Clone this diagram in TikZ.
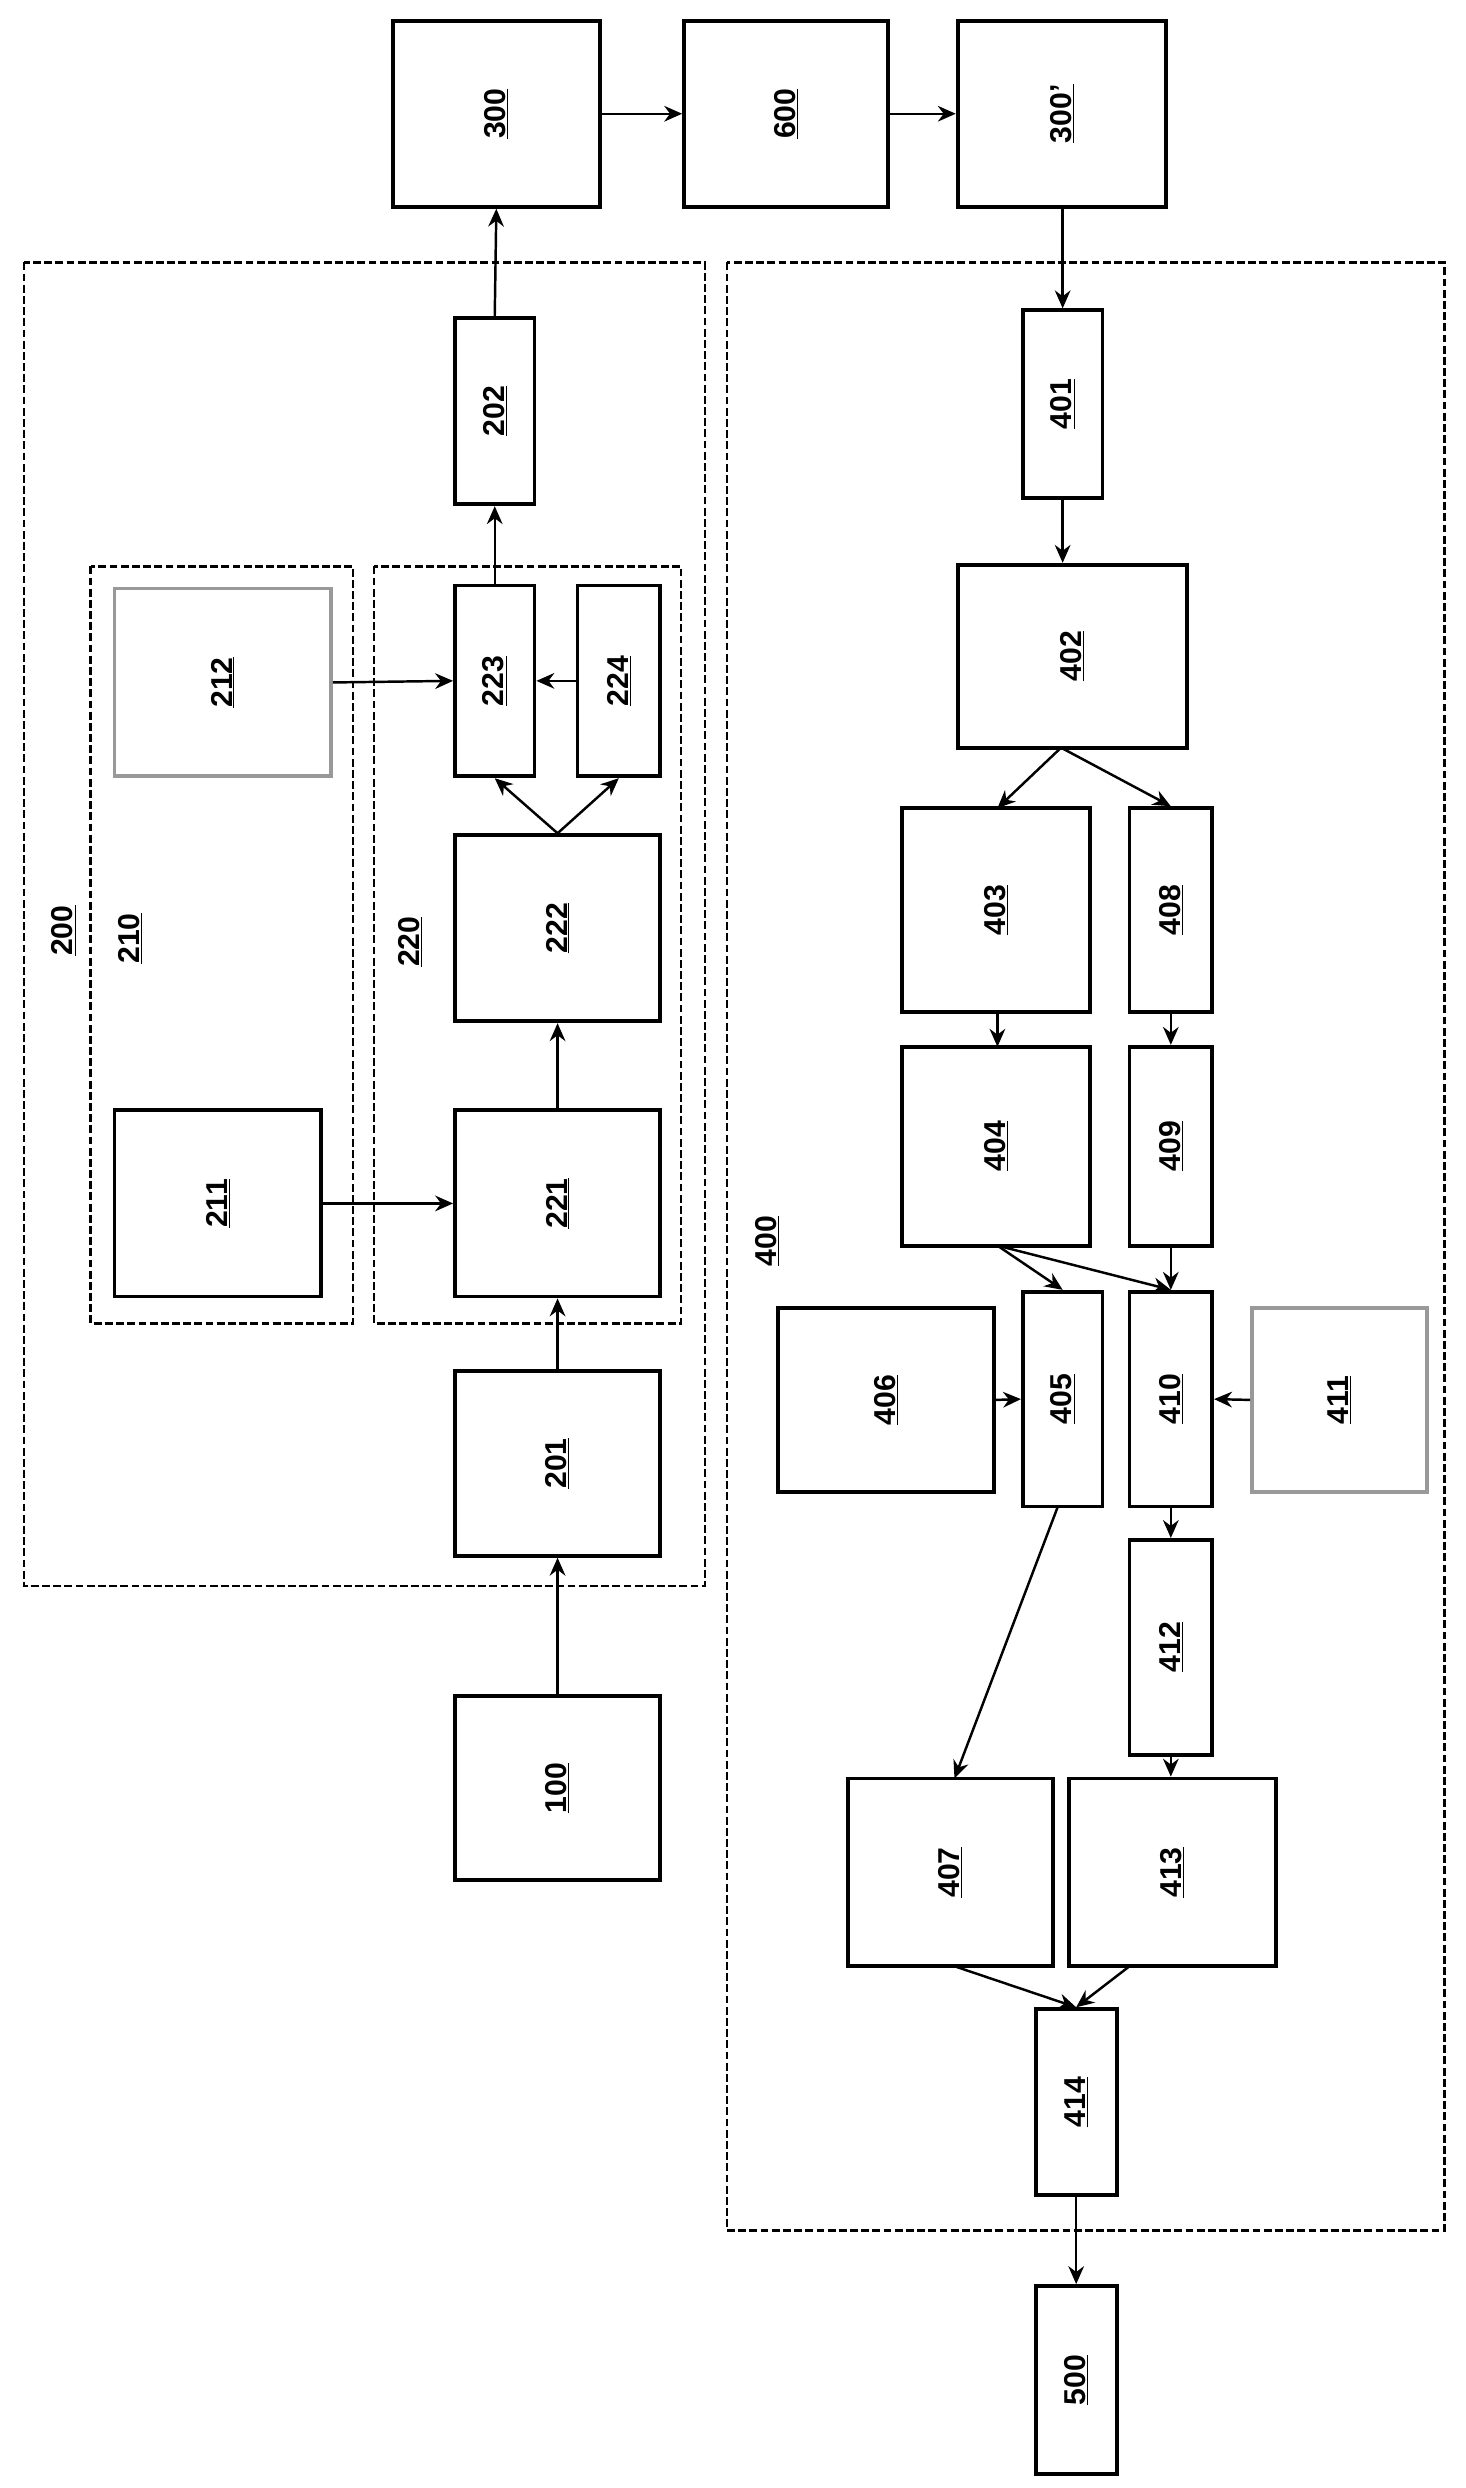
\documentclass[tikz,border=0pt]{standalone}
\usepackage{fontspec}
\setmainfont{Liberation Sans}
\usetikzlibrary{arrows.meta}
\begin{document}
\begin{tikzpicture}[x=0.05cm,y=-0.05cm,
  box/.style={draw,line width=3.4pt,inner sep=0pt,font=\fontsize{27}{30}\selectfont\bfseries},
  gbox/.style={box,draw=gray!80},
  dashbox/.style={draw,line width=2.2pt,dash pattern=on 7pt off 3pt},
  arr/.style={line width=2.2pt,-{Stealth[length=16pt,width=14pt]}},
  lab/.style={font=\fontsize{27}{30}\selectfont\bfseries,rotate=90}]
\useasboundingbox (0,0) rectangle (921,1564);
\newcommand{\bx}[7][box]{%
  \pgfmathsetmacro\cx{(#3+#5)/2}\pgfmathsetmacro\cy{(#4+#6)/2}%
  \pgfmathsetmacro\ww{(#5-#3)*0.05}\pgfmathsetmacro\hh{(#6-#4)*0.05}%
  \node[#1,minimum width=\ww cm,minimum height=\hh cm] (#2) at (\cx,\cy) {\rotatebox{90}{\underline{#7}}};}
% dashed groups
\draw[dashbox] (15,165) rectangle (443,997);
\draw[dashbox] (57,356) rectangle (222,832);
\draw[dashbox] (235,356) rectangle (428,832);
\draw[dashbox] (457,165) rectangle (908,1402);
\node[lab] (l200) at (40,585) {\underline{200}};
\node[lab] (l210) at (82,590) {\underline{210}};
\node[lab] (l220) at (258,592) {\underline{220}};
\node[lab] (l400) at (482,780) {\underline{400}};
\bx{b300}{247}{13}{377}{130}{300}
\bx{b600}{430}{13}{558}{130}{600}
\bx{b300p}{602}{13}{733}{130}{300'}
\bx{b202}{286}{200}{336}{317}{202}
\bx[gbox]{b212}{72}{370}{208}{488}{212}
\bx{b223}{286}{368}{336}{488}{223}
\bx{b224}{363}{368}{415}{488}{224}
\bx{b222}{286}{525}{415}{642}{222}
\bx{b211}{72}{698}{202}{815}{211}
\bx{b221}{286}{698}{415}{815}{221}
\bx{b201}{286}{862}{415}{978}{201}
\bx{b100}{286}{1066}{415}{1182}{100}
\bx{b401}{643}{195}{693}{313}{401}
\bx{b402}{602}{355}{746}{470}{402}
\bx{b403}{567}{508}{685}{636}{403}
\bx{b408}{710}{508}{762}{636}{408}
\bx{b404}{567}{658}{685}{783}{404}
\bx{b409}{710}{658}{762}{783}{409}
\bx{b406}{489}{822}{625}{938}{406}
\bx{b405}{643}{812}{693}{947}{405}
\bx{b410}{710}{812}{762}{947}{410}
\bx[gbox]{b411}{787}{822}{897}{938}{411}
\bx{b412}{710}{968}{762}{1103}{412}
\bx{b407}{533}{1118}{662}{1236}{407}
\bx{b413}{672}{1118}{802}{1236}{413}
\bx{b414}{651}{1263}{702}{1380}{414}
\bx{b500}{651}{1437}{702}{1555}{500}
% arrows
\draw[arr] (b100.north) -- (b201.south);
\draw[arr] (b201.north) -- (b221.south);
\draw[arr] (b211.east) -- (b221.west);
\draw[arr] (b221.north) -- (b222.south);
\draw[arr] (b222.north) -- (b223.south);
\draw[arr] (b222.north) -- (b224.south);
\draw[arr] (b212.east) -- (b223.west);
\draw[arr] (b224.west) -- (b223.east);
\draw[arr] (b223.north) -- (b202.south);
\draw[arr] (b202.north) -- (b300.south);
\draw[arr] (b300.east) -- (b600.west);
\draw[arr] (b600.east) -- (b300p.west);
\draw[arr] (b300p.south -| b401.north) -- (b401.north);
\draw[arr] (b401.south) -- (b401.south |- b402.north);
\coordinate (c402) at (667,470);
\coordinate (c403t) at (627,508);
\coordinate (c403b) at (627,636);
\coordinate (c404t) at (627,658);
\draw[arr] (c402) -- (c403t);
\draw[arr] (c402) -- (b408.north);
\draw[arr] (c403b) -- (c404t);
\draw[arr] (b408.south) -- (b409.north);
\coordinate (c404) at (627,783);
\draw[arr] (c404) -- (b405.north);
\draw[arr] (c404) -- (b410.north);
\draw[arr] (b409.south) -- (b410.north);
\draw[arr] (b406.east) -- (b405.west);
\draw[arr] (b411.west) -- (b410.east);
\coordinate (c405) at (665,947);
\coordinate (c407t) at (600,1118);
\draw[arr] (c405) -- (c407t);
\draw[arr] (b410.south) -- (b412.north);
\draw[arr] (b412.south) -- (b412.south |- b413.north);
\coordinate (c407b) at (600,1236);
\coordinate (c413b) at (710,1236);
\draw[arr] (c407b) -- (b414.north);
\draw[arr] (c413b) -- (b414.north);
\draw[arr] (b414.south) -- (b500.north);
\end{tikzpicture}
\end{document}
